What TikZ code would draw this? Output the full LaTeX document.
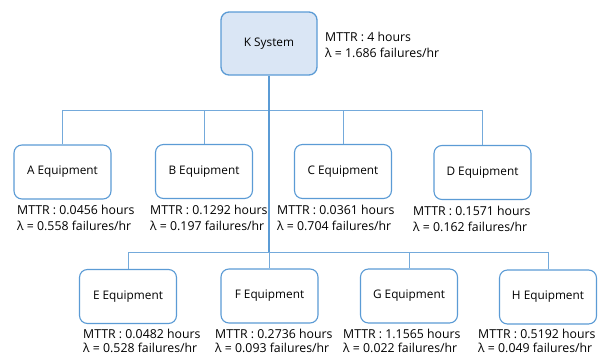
\documentclass[tikz,border=0pt]{standalone}
\usepackage{fontspec}
\setmainfont{Open Sans}
\definecolor{edge}{HTML}{5B9BD5}
\definecolor{kfill}{HTML}{DAE6F5}
\begin{document}
\begin{tikzpicture}[x=1pt,y=-1pt,
  eqbox/.style={draw=edge, line width=1.1pt, rounded corners=8pt, fill=white,
    minimum width=97pt, minimum height=54pt, inner sep=0pt, font=\fontsize{11.8}{13}\selectfont},
  sysbox/.style={eqbox, fill=kfill, minimum width=96pt, minimum height=63pt, line width=1.3pt},
  info/.style={align=left, anchor=west, inner sep=0pt, font=\fontsize{12.3}{16}\selectfont},
  infob/.style={info, font=\fontsize{12.3}{14}\selectfont},
  link/.style={draw=edge!85, line width=0.9pt},
  mainlink/.style={draw=edge, line width=1.4pt}]
\useasboundingbox (0,0) rectangle (599,356);
\node[sysbox] (K) at (269,43.5) {K System};
\node[eqbox] (A) at (62.5,172) {A Equipment};
\node[eqbox] (B) at (204,171.5) {B Equipment};
\node[eqbox] (C) at (343,171.5) {C Equipment};
\node[eqbox] (D) at (482.5,172.5) {D Equipment};
\node[eqbox] (E) at (128,296.5) {E Equipment};
\node[eqbox] (F) at (269.5,296) {F Equipment};
\node[eqbox] (G) at (409,296) {G Equipment};
\node[eqbox] (H) at (548,297) {H Equipment};
\coordinate (tb) at (269,110);
\coordinate (bb) at (269,252);
\draw[link] (A.north) -- (A.north |- tb) -- (D.north |- tb) -- (D.north);
\draw[link] (B.north) -- (B.north |- tb);
\draw[link] (C.north) -- (C.north |- tb);
\draw[link] (E.north) -- (E.north |- bb) -- (H.north |- bb) -- (H.north);
\draw[link] (F.north) -- (F.north |- bb);
\draw[link] (G.north) -- (G.north |- bb);
\draw[mainlink] (K.south) -- (bb);
\node[info] (Ki) at (325,45) {MTTR : 4 hours\\λ = 1.686 failures/hr};
\node[info] (Ai) at (17,218) {MTTR : 0.0456 hours\\λ = 0.558 failures/hr};
\node[info] (Bi) at (150,218) {MTTR : 0.1292 hours\\λ = 0.197 failures/hr};
\node[info] (Ci) at (277,218) {MTTR : 0.0361 hours\\λ = 0.704 failures/hr};
\node[info] (Di) at (413,219) {MTTR : 0.1571 hours\\λ = 0.162 failures/hr};
\node[infob] (Ei) at (83,341) {MTTR : 0.0482 hours\\λ = 0.528 failures/hr};
\node[infob] (Fi) at (215,341) {MTTR : 0.2736 hours\\λ = 0.093 failures/hr};
\node[infob] (Gi) at (343,341) {MTTR : 1.1565 hours\\λ = 0.022 failures/hr};
\node[infob] (Hi) at (478,341) {MTTR : 0.5192 hours\\λ = 0.049 failures/hr};
\end{tikzpicture}
\end{document}
